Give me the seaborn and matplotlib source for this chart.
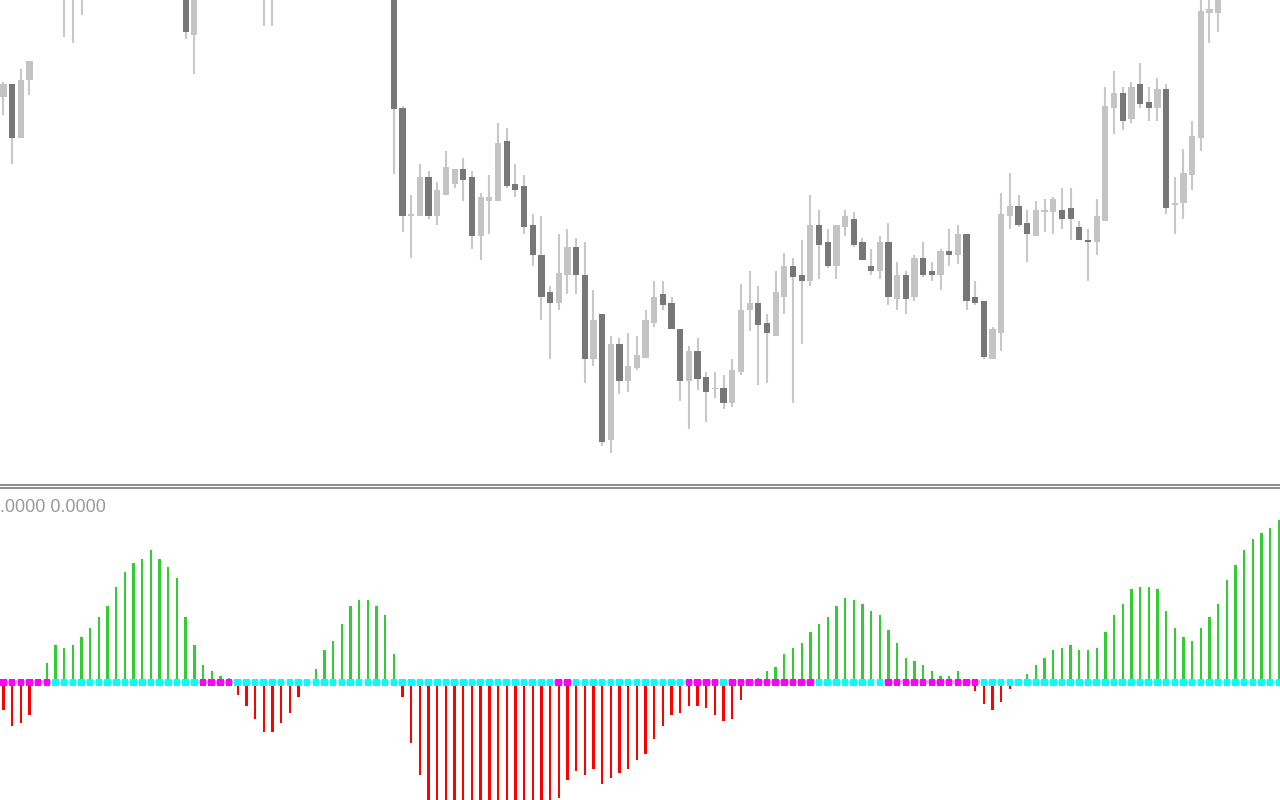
import matplotlib
matplotlib.use("Agg")
import matplotlib.pyplot as plt
from matplotlib.lines import Line2D
import seaborn as sns
import numpy as np
import pandas as pd

# price candles (bars 0..147); values above 483 sit above the visible window
opens = [386.3, 399, 345.3, 403, 495, 515, 540, 500, 528, 505, 520, 535, 550, 565, 580, 570, 585, 575, 555, 540,
         530, 505, 448.3, 500, 515, 525, 510, 520, 505, 515, 502, 520, 505, 518, 535, 545, 560, 575, 595, 610,
         625, 640, 645, 635, 620, 600, 375.3, 267.3, 267.3, 306.3, 267.3, 288.3, 299.3, 314, 306, 247.3, 282.3, 282.3, 342.3, 299.3,
         297.3, 258.3, 228.3, 191.3, 180.3, 208.3, 236.3, 208.3, 124.3, 169, 43.3, 139, 102.3, 115, 124.7, 160.3, 189.3, 180.3, 154, 102.3,
         132.3, 106.3, 94, 95.3, 80.3, 111.3, 173, 180.3, 160, 147.3, 186.3, 217, 208, 202.3, 258, 241, 217, 256.3, 264, 241,
         217, 212.3, 241, 184.3, 208, 186.3, 225, 212, 208.3, 232, 228.3, 249, 186, 182, 124.3, 150.3, 267.3, 277, 260, 247.3,
         271.3, 271.3, 273, 275, 256, 243.3, 241.3, 262.3, 375.3, 390, 364.3, 399, 381, 375.3, 394, 277.7, 280.3, 308.3, 345.3, 470.3,
         470.3, 493, 510, 525, 540, 535, 555, 570]
highs = [401, 399, 414, 422, 520, 545, 560, 545, 540, 530, 545, 560, 575, 590, 600, 595, 600, 590, 570, 560,
         545, 515, 510, 520, 535, 540, 525, 530, 520, 530, 530, 528, 525, 540, 555, 565, 580, 600, 615, 630,
         645, 655, 660, 650, 630, 605, 377, 288, 319, 312, 301, 332, 314, 325, 312, 290, 308.3, 360.3, 355.3, 319.3,
         308.3, 269.3, 267.3, 197, 249.3, 254.3, 245.3, 241, 193, 169, 147, 145, 150, 147, 173, 202, 202, 186, 154, 137,
         145, 111, 111, 108, 124, 199.3, 212, 197.3, 169, 212, 230, 225, 243, 288, 273, 254, 258, 273, 271, 245,
         234, 247, 260, 221, 212, 228, 241, 221, 234, 254, 258, 249, 202, 182, 156.3, 290, 310, 288, 273, 282,
         284, 286, 295, 295, 262, 254.3, 284, 396, 412, 396, 401, 420, 396, 405, 399, 306, 334, 362.3, 488, 491,
         503, 515, 530, 545, 555, 560, 575, 590]
lows = [368, 319.3, 345.3, 388, 490, 505, 520, 446.3, 440.3, 468.3, 500, 525, 540, 555, 560, 555, 565, 545, 530, 520,
        505, 444.3, 409.3, 490, 500, 505, 495, 500, 492, 498, 457.3, 457.3, 495, 510, 525, 535, 550, 565, 585, 600,
        610, 625, 630, 615, 590, 308.7, 251.3, 225.3, 267.3, 264.3, 258.3, 288.3, 295.3, 282.3, 234.3, 223.3, 249.3, 282.3, 295.3, 286.3,
        249.3, 217.3, 163, 124.3, 173.3, 189.3, 189.3, 100.3, 117.3, 37.3, 30.3, 89.3, 91.3, 113, 124.7, 156.3, 173, 154, 82.3, 54.3,
        93.3, 61.3, 85.3, 74.3, 76.3, 108.3, 152.3, 98.3, 100.3, 147.3, 169, 80.3, 139.3, 197.3, 204.3, 215.3, 204.3, 247.3, 236.3, 223.3,
        208.3, 204.3, 178.3, 173.3, 169.3, 182.3, 206.3, 202.3, 193.3, 217.3, 219.3, 173.3, 178, 124.3, 124.3, 132, 254.3, 256.3, 221.3, 247.3,
        251.3, 249.3, 254.3, 243.3, 243.3, 202.3, 228.3, 262.3, 349.3, 353.3, 360.3, 375.3, 362.3, 362.3, 269.3, 249.3, 264.3, 293.3, 332.3, 440.3,
        451.3, 486, 500, 515, 528, 530, 545, 560]
closes = [399, 345.3, 403, 422, 515, 540, 530, 530, 505, 520, 535, 550, 565, 580, 570, 585, 575, 555, 540, 530,
          510, 451, 500, 515, 525, 510, 520, 505, 515, 502, 520, 505, 518, 535, 545, 560, 575, 595, 610, 625,
          640, 645, 635, 620, 600, 373.7, 267.3, 268.7, 306.3, 267.3, 293, 316.3, 314, 303.3, 247.3, 286.3, 286.3, 340.3, 297.3, 293.3,
          256.3, 228.3, 186.3, 180.3, 210.3, 236.3, 208.3, 124.3, 163, 41.3, 139, 102.3, 117, 128, 163, 186.3, 178.3, 154, 102.3, 132.3,
          104.3, 91.3, 95.3, 80.3, 113.3, 173, 180.3, 158.3, 150.3, 191, 217, 206.3, 202.3, 258, 238.3, 217, 258, 267, 238.3, 223.3,
          212.3, 241, 186.3, 208, 184.3, 225, 208, 208.3, 232, 228.3, 249, 182.3, 180, 126.3, 154, 269, 277, 258.3, 249, 273,
          273, 284, 264.3, 264.3, 243.3, 241.3, 267.3, 377, 390, 362.3, 396, 379.3, 375.3, 394, 275.3, 280, 310, 347.3, 472, 474,
          493, 510, 525, 540, 535, 555, 570, 585]

# oscillator histogram, same bars
osc = [-27.7, -43.7, -40.3, -32.7, 0, 19.3, 37.7, 34.7, 37.7, 45.7, 54.7, 65.7, 76.3, 95.7, 110.7, 119.7, 123.7, 132.7, 123.7, 115.7,
       104.7, 65.7, 37.7, 17.7, 11.7, 6.7, 4.7, -12.3, -23.3, -36.3, -49.3, -49.3, -40.3, -30.3, -14.3, 0, 13.7, 32.3, 41.3, 58.7,
       76.3, 82.3, 82.3, 76.3, 67.3, 28.3, -14.3, -60.3, -92.3, -125, -132, -140, -146, -150, -152, -150, -147, -143, -140, -138,
       -134, -130, -126, -122, -116, -97.3, -88.3, -92.3, -86.3, -101.3, -95.3, -90.3, -86.3, -77.3, -71.7, -56.3, -43.7, -32.7, -30.3, -23.3,
       -23.3, -25.3, -32.3, -38.3, -36.3, -17.3, 0, 4.3, 11.3, 15.3, 28.7, 34.7, 39.3, 50.7, 58.7, 65.7, 76.7, 84.7, 82.7, 78.7,
       71.7, 67.7, 52.7, 39.7, 24.7, 21.7, 17.7, 11.7, 6.7, 6.7, 11.7, 0, -8.3, -21.3, -27.3, -19.3, -6.3, 0, 8.7, 17.7,
       24.7, 32.7, 34.7, 37.7, 32.7, 32.7, 34.7, 50.7, 67.7, 78.7, 93.7, 95.7, 95.7, 93.7, 71.7, 54.7, 45.7, 41.7, 54.7, 65.7,
       78.7, 102.7, 117.7, 132.7, 143.7, 149.7, 154.7, 162.7]

# signal dots on the zero line: (colour, number of bars)
signal_runs = [("m", 6), ("c", 17), ("m", 4), ("c", 37), ("m", 2), ("c", 13),
               ("m", 4), ("c", 1), ("m", 10), ("c", 8), ("m", 11), ("c", 35)]

sns.set_style("white")
plt.rcParams['font.family'] = ['Liberation Sans', 'DejaVu Sans']

n = len(closes)
idx = np.arange(n)
o = np.array(opens)
h = np.array(highs)
l = np.array(lows)
c = np.array(closes)

fig = plt.figure(figsize=(12.8, 8), dpi=100)
ax_top = fig.add_axes([0, 1 - 483 / 800, 1, 483 / 800])
ax_bot = fig.add_axes([0, 0, 1, 310 / 800])

# candles
bull = c >= o
body_col = np.where(bull, "#c4c4c4", "#777777")
ax_top.vlines(idx, l, h, color="#c8c8c8", lw=1.5, zorder=1)
ax_top.bar(idx, np.maximum(np.abs(c - o), 1.2), bottom=np.minimum(o, c),
           width=0.72, color=body_col, linewidth=0, zorder=2)
ax_top.set_ylim(0, 483)

# histogram
df = pd.DataFrame({"bar": idx, "value": osc,
                   "dir": np.where(np.array(osc) > 0, "up", "down")})
sns.barplot(data=df, x="bar", y="value", hue="dir",
            palette={"up": "#32cd32", "down": "#ff0000"}, saturation=1,
            native_scale=True, dodge=False, width=0.27, errorbar=None,
            legend=False, linewidth=0, ax=ax_bot, zorder=2)

sig = [col for col, cnt in signal_runs for _ in range(cnt)]
band_col = {"m": "#ff9dff", "c": "#a6ffff"}
ax_bot.hlines(np.zeros(n), idx - 0.5, idx + 0.5,
              colors=[band_col[s] for s in sig], lw=3, zorder=3)
sns.scatterplot(x=idx, y=np.zeros(n), hue=sig,
                palette={"m": "#ff00ff", "c": "#00ffff"},
                marker="s", s=22, linewidth=0, legend=False, ax=ax_bot, zorder=4)
ax_bot.set_ylim(-117.7, 192.3)

for ax in (ax_top, ax_bot):
    ax.set_xlim(-0.4, 147.13)
    ax.set_axis_off()

# window separator
for yp in (484.5, 487.8):
    fig.add_artist(Line2D([0, 1], [1 - yp / 800] * 2, color="#8c8c8c", lw=1.4,
                          transform=fig.transFigure))

fig.text(0.0, 1 - 508 / 800, ".0000 0.0000", color="#9a9a9a", fontsize=13,
         va="center", ha="left")

fig.savefig("out.png", dpi=100)
